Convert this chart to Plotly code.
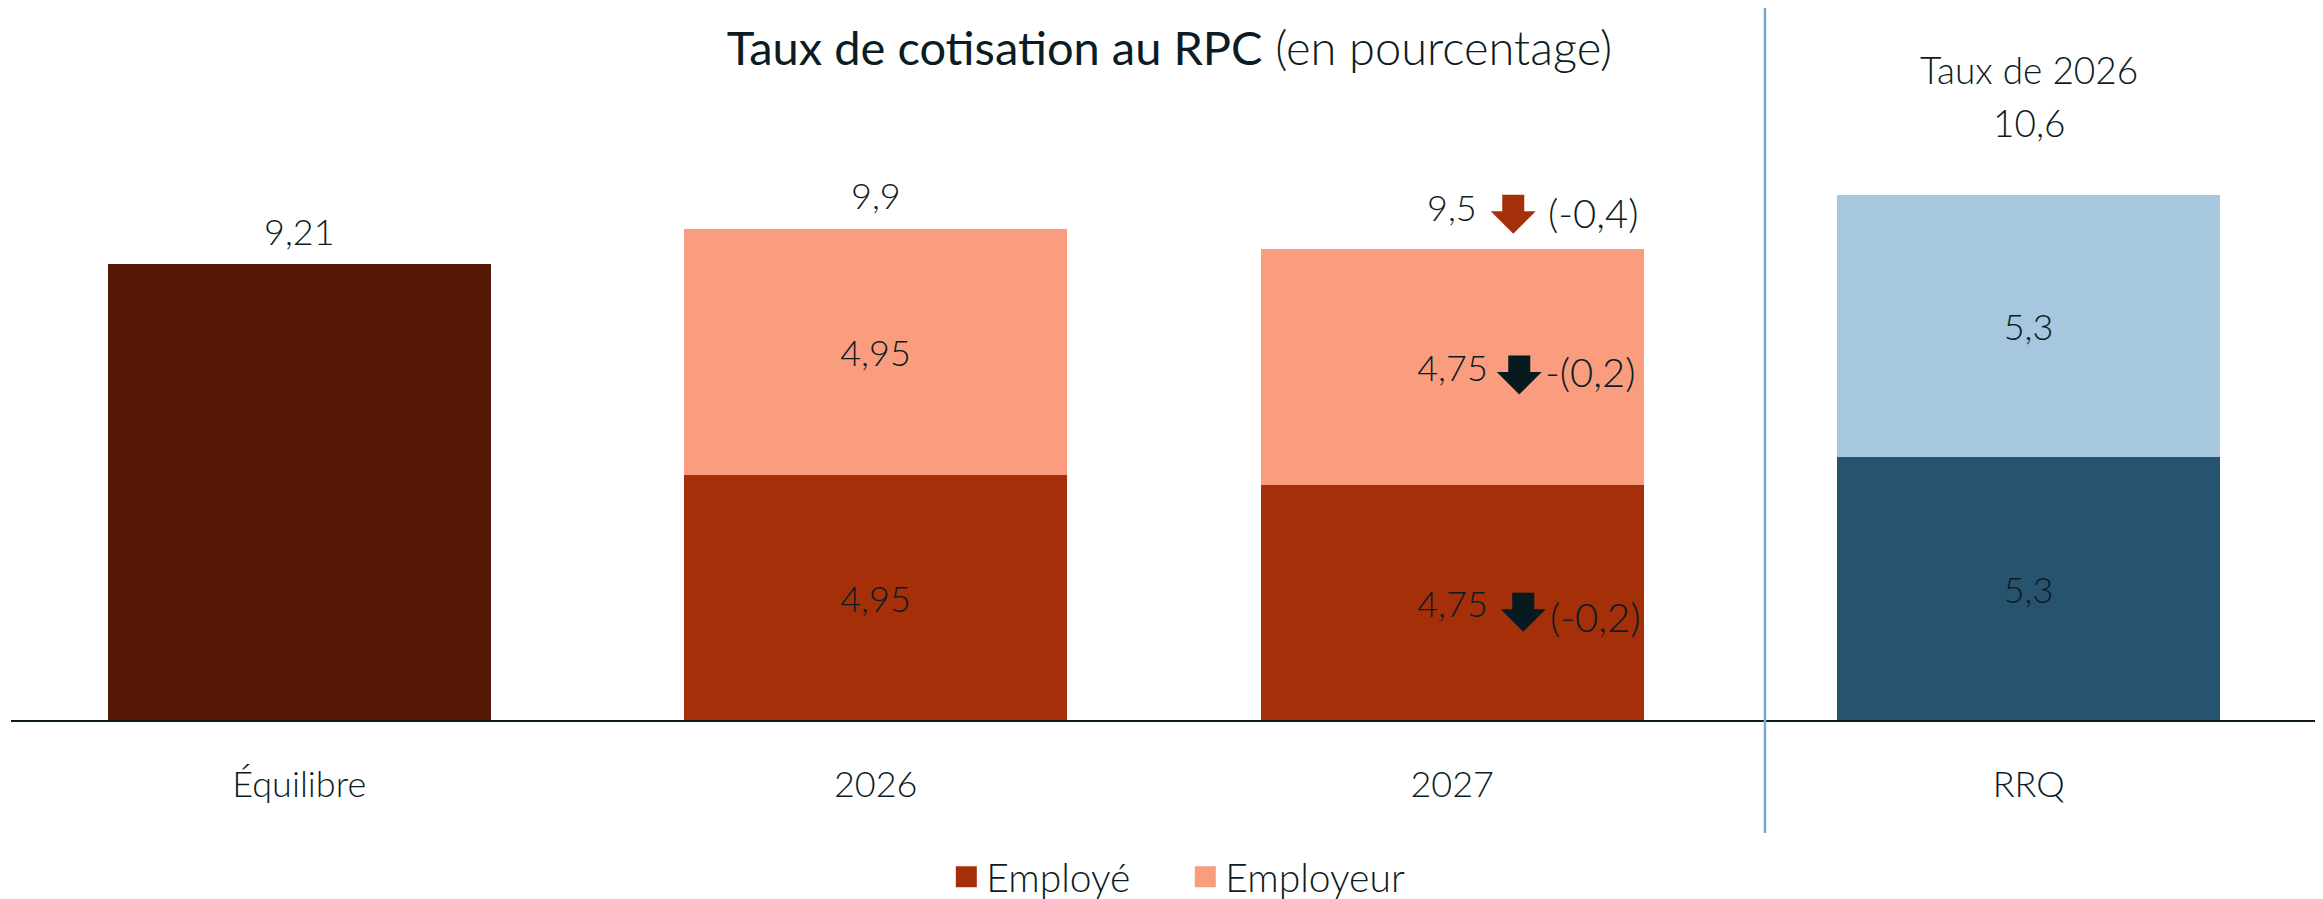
import plotly.graph_objects as go

# ---- data ----
categories = ["Équilibre", "2026", "2027", "RRQ"]
equilibre = [9.21, None, None, None]
employe = [None, 4.95, 4.75, None]
employeur = [None, 4.95, 4.75, None]
rrq_bas = [None, None, None, 5.3]
rrq_haut = [None, None, None, 5.3]
rrq_header = "Taux de 2026"
changes_2027 = {"total": "(-0,4)", "employeur": "-(0,2)", "employe": "(-0,2)"}

TXT = "#0c1c24"
FONT = "Lato"
FS = 36
BARW = 0.665
PX_PER_UNIT = 49.55
PLOT_H = 712
C_EQ = "#541805"
C_EMP = "#A52F08"
C_EMPR = "#F99D7E"
C_RRQ_B = "#27536F"
C_RRQ_H = "#A6C7DE"


def fr(v):
    return ("%g" % v).replace(".", ",")


def labels(vals):
    return [fr(v) if v is not None else "" for v in vals]


fig = go.Figure()

common = dict(width=BARW, insidetextanchor="middle",
              textangle=0, hoverinfo="skip",
              textfont=dict(family=FONT, size=FS, color=TXT, weight=300),
              marker_line_width=0)

fig.add_bar(x=categories, y=equilibre, marker_color=C_EQ, showlegend=False,
            name="Équilibre", textposition="none", **common)
fig.add_bar(x=categories, y=employe, name="Employé", marker_color=C_EMP, legendgroup="emp",
            showlegend=False, text=labels(employe), textposition="inside", **common)
fig.add_bar(x=categories, y=employeur, name="Employeur", marker_color=C_EMPR, legendgroup="empr",
            showlegend=False, text=labels(employeur), textposition="inside", **common)
fig.add_bar(x=categories, y=rrq_bas, name="RRQ employé", marker_color=C_RRQ_B,
            showlegend=False, text=labels(rrq_bas), textposition="inside", **common)
fig.add_bar(x=categories, y=rrq_haut, name="RRQ employeur", marker_color=C_RRQ_H,
            showlegend=False, text=labels(rrq_haut), textposition="inside", **common)

# legend entries (larger square swatches)
for nm, col, grp in (("Employé", C_EMP, "emp"), ("Employeur", C_EMPR, "empr")):
    fig.add_scatter(x=[None], y=[None], mode="markers", name=nm, legendgroup=grp,
                    marker=dict(symbol="square", size=16, color=col,
                                line=dict(color=col, width=5)),
                    hoverinfo="skip")

# totals
totals = []
for i in range(len(categories)):
    parts = [s[i] for s in (equilibre, employe, employeur, rrq_bas, rrq_haut) if s[i] is not None]
    totals.append(round(sum(parts), 2))

annots = []
tfont = dict(family=FONT, size=FS, color=TXT, weight=300)
dfont = dict(family=FONT, size=40, color=TXT, weight=300)
tot_shift = [33, 34, 42]
for i in range(3):
    annots.append(dict(x=i, y=totals[i], text=fr(totals[i]), showarrow=False,
                       yanchor="middle", yshift=tot_shift[i], font=tfont))

# RRQ header
annots.append(dict(x=3, y=totals[3], text=rrq_header, showarrow=False,
                   yanchor="middle", yshift=125, font=dict(tfont, size=37)))
annots.append(dict(x=3, y=totals[3], text=fr(totals[3]), showarrow=False,
                   yanchor="middle", yshift=72, font=dict(tfont, size=37)))


# 2027 change indicators: block arrows = thick shaft + triangular head
def block_arrow(x, y, xshift, tip_shift, color):
    head_scale = 7.5          # head: 45 px wide, 22.5 px long
    head = dict(x=x, y=y, xshift=xshift, yshift=tip_shift + 0.6 * head_scale,
                text="", showarrow=True, arrowhead=1, arrowwidth=2,
                arrowsize=head_scale / 2, ax=0, ay=-14, axref="pixel", ayref="pixel",
                standoff=0, startstandoff=0, arrowcolor=color)
    base = tip_shift + 3 * head_scale
    shaft = dict(x=x, y=y, xshift=xshift, yshift=base - 1, text="", showarrow=True,
                 arrowhead=0, arrowwidth=22, ax=0, ay=-(46 - 3 * head_scale),
                 axref="pixel", ayref="pixel", standoff=0, startstandoff=0,
                 arrowcolor=color)
    return [shaft, head]


i27 = 2
y_tot = totals[i27]
y_emp = employe[i27] / 2
y_empr = employe[i27] + employeur[i27] / 2
annots += block_arrow(i27, y_tot, 61, 11, C_EMP)
annots += block_arrow(i27, y_empr, 67, -32, "#061A20")
annots += block_arrow(i27, y_emp, 71, -34, "#061A20")
annots += [
    dict(x=i27, y=y_tot, text=changes_2027["total"], showarrow=False, yshift=36,
         xshift=141, font=dfont),
    dict(x=i27, y=y_empr, text=changes_2027["employeur"], showarrow=False, yshift=-5,
         xshift=138, font=dfont),
    dict(x=i27, y=y_emp, text=changes_2027["employe"], showarrow=False, yshift=-15,
         xshift=143, font=dfont),
]

fig.update_layout(
    width=2323, height=899,
    margin=dict(l=3, r=14, t=0, b=899 - PLOT_H, autoexpand=False),
    barmode="stack",
    bargap=0,
    paper_bgcolor="white", plot_bgcolor="white",
    font=dict(family=FONT, size=FS, color=TXT, weight=300),
    title=dict(
        text='<span style="font-weight:400">Taux de cotisation au RPC</span> (en pourcentage)',
        x=0.5, xanchor="center", y=1 - 41 / 899, yanchor="middle", yref="container",
        font=dict(family=FONT, size=47, color=TXT, weight=300)),
    xaxis=dict(type="category", categoryorder="array", categoryarray=categories,
               range=[-0.5, 3.5], showline=True, linecolor=TXT, linewidth=2,
               showgrid=False, zeroline=False, ticks="", ticklabelstandoff=32,
               automargin=False,
               tickfont=dict(family=FONT, size=FS, color=TXT, weight=300)),
    yaxis=dict(range=[0, PLOT_H / PX_PER_UNIT], visible=False, showgrid=False,
               zeroline=False, automargin=False),
    legend=dict(orientation="h", x=0.4056, xanchor="left", y=-0.2205, yanchor="middle",
                font=dict(family=FONT, size=39, color=TXT, weight=300),
                traceorder="normal", itemclick=False, itemsizing="trace", entrywidth=194),
    annotations=annots,
    shapes=[dict(type="line", xref="paper", yref="paper", x0=0.7606, x1=0.7606,
                 y0=1.0, y1=(PLOT_H - 825) / PLOT_H, line=dict(color="#7BA7D0", width=2.5),
                 layer="above")],
    showlegend=True,
)

fig.write_html("out.html")
